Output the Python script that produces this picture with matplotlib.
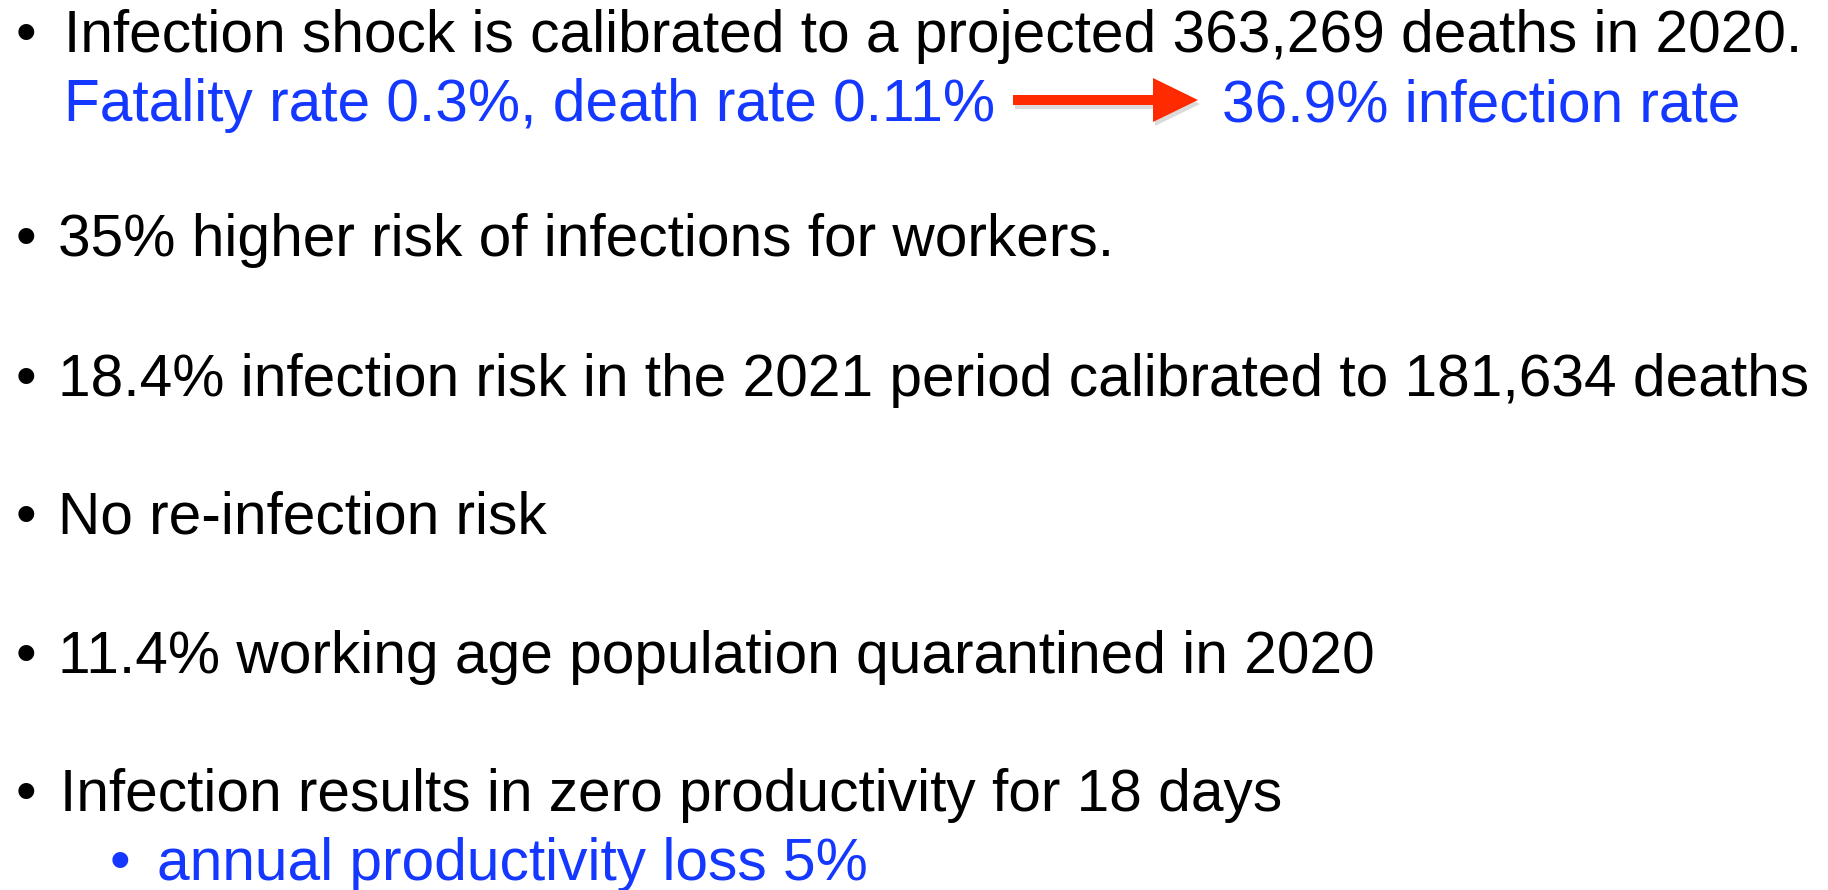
import matplotlib.pyplot as plt
from matplotlib.patches import FancyArrow

# -----------------------------------------------------------#
# Slide content (text lines, colours, baselines in pixels)
# -----------------------------------------------------------#
W, H = 1828, 890

main_lines = [
    "Infection shock is calibrated to a projected 363,269 deaths in 2020.",
    "35% higher risk of infections for workers.",
    "18.4% infection risk in the 2021 period calibrated to 181,634 deaths",
    "No re-infection risk",
    "11.4% working age population quarantined in 2020",
    "Infection results in zero productivity for 18 days",
]
main_baselines = [52, 256, 396, 534, 673, 811]
main_text_x = [64, 58, 58, 58, 58, 60]

sub_left = "Fatality rate 0.3%, death rate 0.11%"
sub_right = "36.9% infection rate"
sub_baseline = 121

sub_bullet = "annual productivity loss 5%"
sub_bullet_baseline = 880

BLACK = "black"
BLUE = "#1438ff"
RED = "#ff2a00"
FS = 42.2

plt.rcParams['font.family'] = ['Liberation Sans', 'DejaVu Sans']

fig = plt.figure(figsize=(W / 100, H / 100), dpi=100)
fig.patch.set_facecolor("white")


def px(x, y):
    '''pixels (top-left origin) -> figure fraction'''
    return x / W, 1 - y / H


def put(x, y, s, color, size=FS):
    fx, fy = px(x, y)
    fig.text(fx, fy, s, color=color, fontsize=size, va="baseline", ha="left")


# main bullets
for s, yb, xt in zip(main_lines, main_baselines, main_text_x):
    put(16, yb, "\u2022", BLACK)
    put(xt, yb, s, BLACK)

# blue sub-line with arrow
put(64, sub_baseline, sub_left, BLUE)
put(1222, sub_baseline, sub_right, BLUE)

x0, y0 = px(1013, 100)
x1, _ = px(1198, 100)
for dx, dy, col, a in [(2 / W, -4 / H, "0.6", 0.35), (0, 0, RED, 1.0)]:
    fig.patches.append(FancyArrow(
        x0 + dx, y0 + dy, x1 - x0, 0, width=10 / H, head_width=44 / H,
        head_length=45 / W, length_includes_head=True, color=col, alpha=a,
        lw=0, transform=fig.transFigure, figure=fig))

# nested blue bullet
put(110, sub_bullet_baseline, "\u2022", BLUE)
put(157, sub_bullet_baseline, sub_bullet, BLUE)

plt.savefig("out.png", dpi=100)
